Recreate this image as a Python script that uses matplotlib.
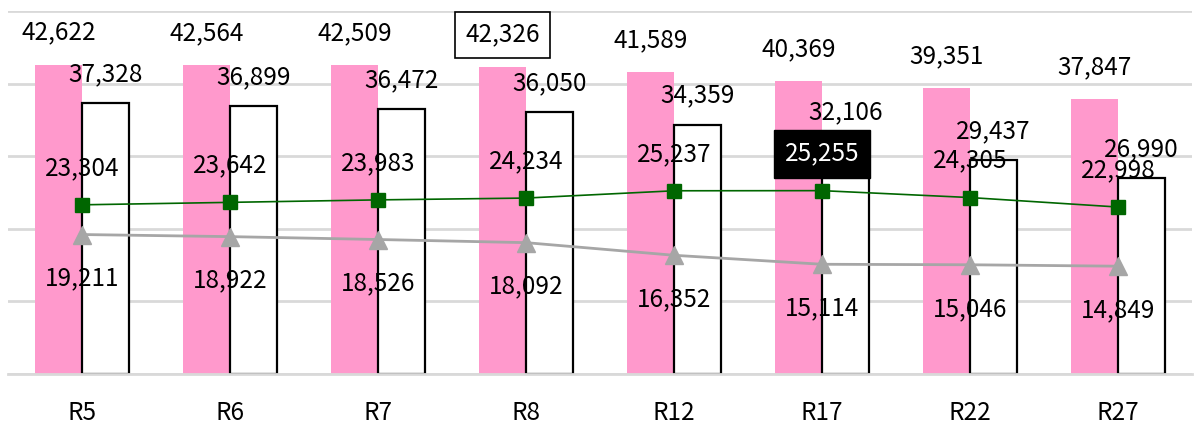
import matplotlib
matplotlib.use('Agg')
import matplotlib.pyplot as plt
import numpy as np

categories = ['R5', 'R6', 'R7', 'R8', 'R12', 'R17', 'R22', 'R27']
pink_values = [42622, 42564, 42509, 42326, 41589, 40369, 39351, 37847]
white_values = [37328, 36899, 36472, 36050, 34359, 32106, 29437, 26990]
green_values = [23304, 23642, 23983, 24234, 25237, 25255, 24305, 22998]
gray_values = [19211, 18922, 18526, 18092, 16352, 15114, 15046, 14849]

plt.rcParams['font.family'] = ['Noto Sans CJK JP', 'DejaVu Sans']

W, H = 1198, 426
fig = plt.figure(figsize=(W / 100, H / 100), dpi=100)
ax = fig.add_axes([8 / W, 1 - 374 / H, 1184 / W, 363 / H])

x = np.arange(len(categories))
w = 0.32
fs = 17.5

ax.bar(x - w / 2, pink_values, w, color='#FF99CC', zorder=2)
ax.bar(x + w / 2, white_values, w, color='white', edgecolor='black', linewidth=1.6, zorder=2)
ax.plot(x, gray_values, color='#A6A6A6', lw=2.0, marker='^', ms=13, zorder=3)
ax.plot(x, green_values, color='#006600', lw=1.2, marker='s', ms=10.5, zorder=4)

ax.set_ylim(0, 50000)
ax.set_xlim(-0.5, 7.5)
ax.set_yticks(range(0, 50001, 10000))
ax.yaxis.grid(True, color='#D9D9D9', lw=2)
ax.set_axisbelow(True)
ax.tick_params(left=False, bottom=False, labelleft=False)
for s in ['top', 'right', 'left']:
    ax.spines[s].set_visible(False)
ax.spines['bottom'].set_color('#D9D9D9')
ax.spines['bottom'].set_linewidth(2)
ax.spines['bottom'].set_zorder(5)
ax.set_xticks(x)
ax.set_xticklabels(categories, fontsize=fs)
ax.tick_params(axis='x', pad=15)

def fmt(v):
    return f'{v:,}'

for i in range(len(categories)):
    kw = {}
    if i == 3:
        kw['bbox'] = dict(boxstyle='square,pad=0.42', fc='white', ec='black', lw=1.2)
    ax.annotate(fmt(pink_values[i]), (x[i] - w / 2, pink_values[i]), xytext=(0, 25),
                textcoords='offset pixels', ha='center', va='baseline', fontsize=fs, zorder=6, **kw)
    ax.annotate(fmt(white_values[i]), (x[i] + w / 2, white_values[i]), xytext=(0, 22),
                textcoords='offset pixels', ha='center', va='baseline', fontsize=fs, zorder=6)
    kw = {}
    col = 'black'
    if i == 5:
        kw['bbox'] = dict(boxstyle='square,pad=0.45', fc='black', ec='black')
        col = 'white'
    ax.annotate(fmt(green_values[i]), (x[i], green_values[i]), xytext=(0, 30),
                textcoords='offset pixels', ha='center', va='baseline', fontsize=fs,
                color=col, zorder=7, **kw)
    ax.annotate(fmt(gray_values[i]), (x[i], gray_values[i]), xytext=(0, -51),
                textcoords='offset pixels', ha='center', va='baseline', fontsize=fs, zorder=6)

fig.savefig('out.png', dpi=100)
